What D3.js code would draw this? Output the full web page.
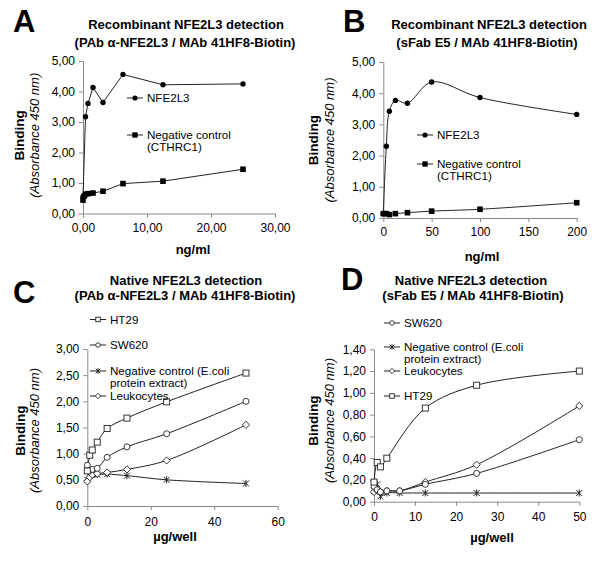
<!DOCTYPE html>
<html>
<head>
<meta charset="utf-8">
<script src="https://cdn.jsdelivr.net/npm/d3@7"></script>
<style>
  body { margin: 0; background: #fff; }
  text { font-family: "Liberation Sans", Arial, sans-serif; fill: #000; }
</style>
</head>
<body>
<svg id="mainsvg" width="600" height="561"></svg>
<script>
// ---- data ----
// A: recombinant, PAb / MAb (ng/ml)
const aConcNfe = [0, 0.39, 0.78, 1.56, 3.125, 6.25, 12.5, 25]
const aNfe = [0.55, 3.17, 3.61, 4.13, 3.64, 4.56, 4.22, 4.25]
const aConcNeg = [0, 0.2, 0.39, 0.78, 1.56, 3.125, 6.25, 12.5, 25]
const aNeg = [0.44, 0.57, 0.63, 0.65, 0.67, 0.73, 0.98, 1.06, 1.45]
const aXTicks = [0, 10, 20, 30]
const aYTicks = [0, 1, 2, 3, 4, 5]

// B: recombinant, sFab E5 / MAb (ng/ml)
const bConc = [0, 3.125, 6.25, 12.5, 25, 50, 100, 200]
const bNfe = [0.14, 2.3, 3.42, 3.77, 3.68, 4.36, 3.86, 3.32]
const bNeg = [0.14, 0.14, 0.11, 0.14, 0.17, 0.22, 0.28, 0.49]
const bXTicks = [0, 50, 100, 150, 200]
const bYTicks = [0, 1, 2, 3, 4, 5]

// C: native, PAb / MAb (ug/well)
const cDose = [0, 0.78, 1.56, 3.125, 6.25, 12.5, 25, 50]
const cHt29 = [0.67, 0.97, 1.07, 1.22, 1.48, 1.68, 1.99, 2.54]
const cSw620 = [0.78, 0.68, 0.7, 0.72, 0.93, 1.13, 1.38, 2.0]
const cNeg = [0.5, 0.57, 0.6, 0.6, 0.61, 0.58, 0.5, 0.43]
const cLeuko = [0.47, 0.55, 0.6, 0.62, 0.64, 0.7, 0.87, 1.55]
const cXTicks = [0, 20, 40, 60]
const cYTicks = [0, 0.5, 1, 1.5, 2, 2.5, 3]

// D: native, sFab E5 / MAb (ug/well)
const dDose = [0, 0.78, 1.56, 3.125, 6.25, 12.5, 25, 50]
const dSw620 = [0.14, 0.11, 0.09, 0.1, 0.1, 0.16, 0.26, 0.57]
const dNeg = [0.1, 0.16, 0.05, 0.08, 0.08, 0.08, 0.08, 0.08]
const dLeuko = [0.09, 0.1, 0.09, 0.1, 0.1, 0.18, 0.34, 0.88]
const dHt29Dose = [0, 0.78, 1.56, 3.125, 12.5, 25, 50]
const dHt29 = [0.18, 0.36, 0.32, 0.4, 0.86, 1.07, 1.2]
const dXTicks = [0, 10, 20, 30, 40, 50]
const dYTicks = [0, 0.2, 0.4, 0.6, 0.8, 1.0, 1.2, 1.4]

const comma2 = v => d3.format('.2f')(v).replace('.', ',')
const plain = v => String(v)
const zip = (xs, ys) => xs.map((x, i) => [x, ys[i]])

const svg = d3.select('#mainsvg')

function marker(g, type, x, y, s) {
    s = s || 1
    if (type === 'dot') {
        g.append('circle').attr('cx', x).attr('cy', y).attr('r', 2.7 * s).attr('fill', '#000')
    } else if (type === 'sq') {
        g.append('rect').attr('x', x - 2.8 * s).attr('y', y - 2.8 * s)
            .attr('width', 5.6 * s).attr('height', 5.6 * s).attr('fill', '#000')
    } else if (type === 'osq') {
        g.append('rect').attr('x', x - 3 * s).attr('y', y - 3 * s)
            .attr('width', 6 * s).attr('height', 6 * s)
            .attr('fill', '#fff').attr('stroke', '#222').attr('stroke-width', 0.9)
    } else if (type === 'ocirc') {
        g.append('circle').attr('cx', x).attr('cy', y).attr('r', 3 * s)
            .attr('fill', '#fff').attr('stroke', '#222').attr('stroke-width', 0.9)
    } else if (type === 'odia') {
        let r = 3.6 * s
        g.append('path').attr('d', `M${x},${y - r}L${x + r},${y}L${x},${y + r}L${x - r},${y}Z`)
            .attr('fill', '#fff').attr('stroke', '#222').attr('stroke-width', 0.9)
    } else if (type === 'star') {
        let r = 3 * s
        g.append('path')
            .attr('d', `M${x - r},${y - r}L${x + r},${y + r}M${x - r},${y + r}L${x + r},${y - r}M${x},${y - r - 0.5}L${x},${y + r + 0.5}`)
            .attr('fill', 'none').attr('stroke', '#222').attr('stroke-width', 1)
    }
}

function drawPanel(p) {
    const g = svg.append('g')
    const x = d3.scaleLinear().domain(p.xDomain).range(p.xRange)
    const y = d3.scaleLinear().domain(p.yDomain).range(p.yRange)

    // panel letter and title
    g.append('text').attr('x', p.letter[1]).attr('y', p.letter[2])
        .attr('font-size', 31).attr('font-weight', 'bold').text(p.letter[0])
    p.titles.forEach(t => {
        g.append('text').attr('x', t[1]).attr('y', t[2]).attr('text-anchor', 'middle')
            .attr('font-size', 13).attr('font-weight', 'bold').text(t[0])
    })

    // axes
    const xAxis = g.append('g').attr('transform', `translate(0,${p.yRange[0]})`)
        .call(d3.axisBottom(x).tickValues(p.xTicks).tickFormat(p.xFormat)
            .tickSize(4).tickSizeOuter(0).tickPadding(p.xPad))
    const yAxis = g.append('g').attr('transform', `translate(${p.xRange[0]},0)`)
        .call(d3.axisLeft(y).tickValues(p.yTicks).tickFormat(comma2)
            .tickSize(4).tickSizeOuter(0).tickPadding(4))
    ;[xAxis, yAxis].forEach(a => {
        a.select('.domain').attr('stroke', '#8a8a8a')
        a.selectAll('.tick line').attr('stroke', '#8a8a8a')
        a.selectAll('.tick text').attr('font-size', 12).attr('fill', '#111')
            .style('font-family', '"Liberation Sans", Arial, sans-serif')
    })

    // axis titles
    g.append('text').attr('x', p.xTitle[1]).attr('y', p.xTitle[2]).attr('text-anchor', 'middle')
        .attr('font-size', 13).attr('font-weight', 'bold').text(p.xTitle[0])
    const yc = (p.yRange[0] + p.yRange[1]) / 2 + p.yTitleShift
    g.append('text').attr('transform', `translate(${p.yTitleX[0]},${yc}) rotate(-90)`)
        .attr('text-anchor', 'middle').attr('font-size', 13.5).attr('font-weight', 'bold').text('Binding')
    g.append('text').attr('transform', `translate(${p.yTitleX[1]},${yc}) rotate(-90)`)
        .attr('text-anchor', 'middle').attr('font-size', 13).attr('font-style', 'italic')
        .text('(Absorbance 450 nm)')

    // series
    const line = d3.line().x(d => x(d[0])).y(d => y(d[1])).curve(p.curve)
    p.series.forEach(s => {
        g.append('path').datum(s.pts).attr('d', line)
            .attr('fill', 'none').attr('stroke', '#222').attr('stroke-width', 1)
    })
    p.series.forEach(s => {
        s.pts.forEach(d => marker(g, s.marker, x(d[0]), y(d[1])))
    })

    // legend
    p.legend.forEach(l => {
        g.append('line').attr('x1', l.x).attr('x2', l.x + 16).attr('y1', l.y).attr('y2', l.y)
            .attr('stroke', '#222').attr('stroke-width', 1)
        marker(g, l.marker, l.x + 8, l.y, p.legendMarkerScale)
        l.text.forEach((t, i) => {
            g.append('text').attr('x', l.x + 20).attr('y', l.y + 4 + i * 11.5)
                .attr('font-size', 11.6).text(t)
        })
    })
}

const smooth = d3.curveCatmullRom.alpha(0.5)

drawPanel({
    letter: ['A', 13, 32],
    titles: [['Recombinant NFE2L3 detection', 186, 29], ['(PAb \u03b1-NFE2L3 / MAb 41HF8-Biotin)', 185, 47]],
    xDomain: [0, 30], xRange: [83, 275], xTicks: aXTicks, xFormat: comma2, xPad: 6,
    yDomain: [0, 5], yRange: [213.5, 61], yTicks: aYTicks,
    xTitle: ['ng/ml', 193, 254], yTitleX: [24, 39], yTitleShift: -2,
    curve: d3.curveLinear,
    series: [
        {pts: zip(aConcNfe, aNfe), marker: 'dot'},
        {pts: zip(aConcNeg, aNeg), marker: 'sq'}
    ],
    legendMarkerScale: 0.95,
    legend: [
        {x: 127, y: 98, marker: 'dot', text: ['NFE2L3']},
        {x: 127, y: 135, marker: 'sq', text: ['Negative control', '(CTHRC1)']}
    ]
})

drawPanel({
    letter: ['B', 343, 32],
    titles: [['Recombinant NFE2L3 detection', 489, 29], ['(sFab E5 /  MAb 41HF8-Biotin)', 487, 47]],
    xDomain: [0, 200], xRange: [383.3, 576.7], xTicks: bXTicks, xFormat: plain, xPad: 5,
    yDomain: [0, 5], yRange: [218, 62], yTicks: bYTicks,
    xTitle: ['ng/ml', 482, 261], yTitleX: [318, 334], yTitleShift: 0,
    curve: smooth,
    series: [
        {pts: zip(bConc, bNfe), marker: 'dot'},
        {pts: zip(bConc, bNeg), marker: 'sq'}
    ],
    legendMarkerScale: 0.95,
    legend: [
        {x: 417, y: 135, marker: 'dot', text: ['NFE2L3']},
        {x: 417, y: 164, marker: 'sq', text: ['Negative control', '(CTHRC1)']}
    ]
})

drawPanel({
    letter: ['C', 13, 303],
    titles: [['Native NFE2L3 detection', 186, 285], ['(PAb \u03b1-NFE2L3 / MAb 41HF8-Biotin)', 185, 300]],
    xDomain: [0, 60], xRange: [87.3, 277.7], xTicks: cXTicks, xFormat: plain, xPad: 7,
    yDomain: [0, 3], yRange: [506, 349], yTicks: cYTicks,
    xTitle: ['\u00b5g/well', 175, 541], yTitleX: [25, 39], yTitleShift: 3,
    curve: smooth,
    series: [
        {pts: zip(cDose, cNeg), marker: 'star'},
        {pts: zip(cDose, cLeuko), marker: 'odia'},
        {pts: zip(cDose, cSw620), marker: 'ocirc'},
        {pts: zip(cDose, cHt29), marker: 'osq'}
    ],
    legendMarkerScale: 0.75,
    legend: [
        {x: 90, y: 319.5, marker: 'osq', text: ['HT29']},
        {x: 90, y: 345, marker: 'ocirc', text: ['SW620']},
        {x: 90, y: 371, marker: 'star', text: ['Negative control (E.coli', 'protein extract)']},
        {x: 90, y: 396, marker: 'odia', text: ['Leukocytes']}
    ]
})

drawPanel({
    letter: ['D', 341, 290],
    titles: [['Native NFE2L3 detection', 471, 285], ['(sFab E5 / MAb 41HF8-Biotin)', 473, 300]],
    xDomain: [0, 50], xRange: [374, 579.3], xTicks: dXTicks, xFormat: plain, xPad: 7,
    yDomain: [0, 1.4], yRange: [501.7, 349.3], yTicks: dYTicks,
    xTitle: ['\u00b5g/well', 492, 542], yTitleX: [318, 334], yTitleShift: -5,
    curve: smooth,
    series: [
        {pts: zip(dDose, dNeg), marker: 'star'},
        {pts: zip(dDose, dLeuko), marker: 'odia'},
        {pts: zip(dDose, dSw620), marker: 'ocirc'},
        {pts: zip(dHt29Dose, dHt29), marker: 'osq'}
    ],
    legendMarkerScale: 0.75,
    legend: [
        {x: 384, y: 323, marker: 'ocirc', text: ['SW620']},
        {x: 384, y: 347, marker: 'star', text: ['Negative control (E.coli', 'protein extract)']},
        {x: 384, y: 371, marker: 'odia', text: ['Leukocytes']},
        {x: 384, y: 396, marker: 'osq', text: ['HT29']}
    ]
})
</script>
</body>
</html>
